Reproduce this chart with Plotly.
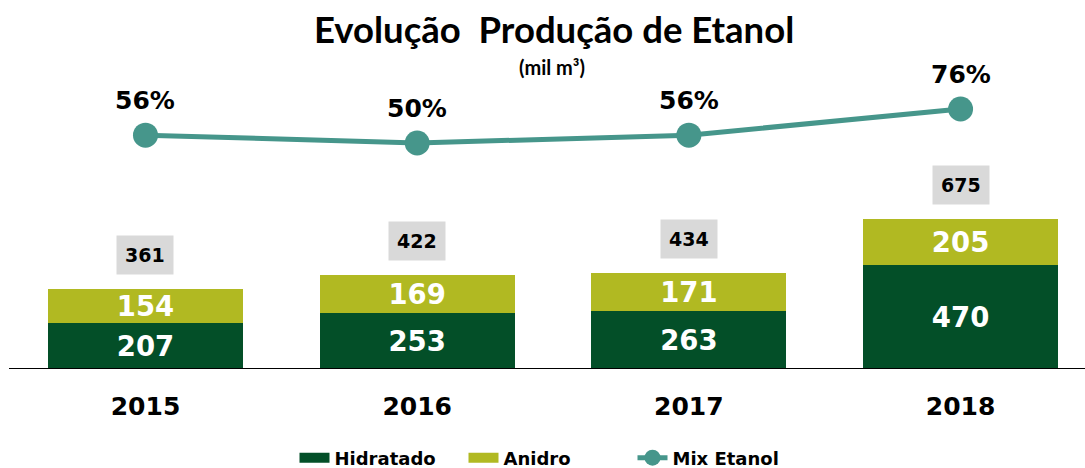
import plotly.graph_objects as go

years = ["2015", "2016", "2017", "2018"]
hidratado = [207, 253, 263, 470]
anidro = [154, 169, 171, 205]
totals = [361, 422, 434, 675]
mix = [56, 50, 56, 76]
mix_labels = ["56%", "50%", "56%", "76%"]

DARK = "#034F28"
LIME = "#B1B922"
TEAL = "#46968B"
NUM_FONT = "DejaVu Sans"
idx = list(range(len(years)))

fig = go.Figure()
fig.add_trace(go.Bar(
    x=idx, y=hidratado, name="Hidratado", marker=dict(color=DARK, line=dict(width=0)),
    text=[str(v) for v in hidratado], textposition="inside", insidetextanchor="middle",
    constraintext="none", showlegend=False,
    textfont=dict(family=NUM_FONT, size=27.5, color="white", weight="bold"),
    hoverinfo="skip"))
fig.add_trace(go.Bar(
    x=idx, y=anidro, name="Anidro", marker=dict(color=LIME, line=dict(width=0)),
    text=[str(v) for v in anidro], textposition="inside", insidetextanchor="middle",
    constraintext="none", showlegend=False,
    textfont=dict(family=NUM_FONT, size=27.5, color="white", weight="bold"),
    hoverinfo="skip"))
# legend proxies for the bar series (wide rectangle look)
fig.add_trace(go.Scatter(x=[None], y=[None], mode="lines", name="Hidratado",
                         line=dict(color=DARK, width=11)))
fig.add_trace(go.Scatter(x=[None], y=[None], mode="lines", name="Anidro",
                         line=dict(color=LIME, width=11)))
fig.add_trace(go.Scatter(
    x=idx, y=mix, name="Mix Etanol", yaxis="y2", mode="lines+markers",
    line=dict(color=TEAL, width=5), marker=dict(color=TEAL, size=25),
    hoverinfo="skip"))

# percent labels
for i, v, lab in zip(idx, mix, mix_labels):
    fig.add_annotation(x=i, y=v, xref="x", yref="y2", text=lab, showarrow=False, yshift=35,
                       font=dict(family=NUM_FONT, size=25, color="black", weight="bold"))
# total boxes
for i, t in zip(idx, totals):
    fig.add_annotation(x=i, y=t, xref="x", yref="y", text=str(t), showarrow=False, yshift=34,
                       bgcolor="#D9D9D9", borderpad=8,
                       font=dict(family=NUM_FONT, size=19, color="black", weight="bold"))

# title & subtitle
fig.add_annotation(xref="paper", yref="paper", x=554/1085, y=1 - 29/369, text="Evolução  Produção de Etanol",
                   showarrow=False, yanchor="middle",
                   font=dict(family="Lato", size=36.5, color="black", weight="bold"))
fig.add_annotation(xref="paper", yref="paper", x=552/1085, y=1 - 67/369, text="(mil m³)",
                   showarrow=False, yanchor="middle",
                   font=dict(family="Lato", size=20, color="black", weight="bold"))

# baseline
fig.add_shape(type="line", xref="paper", yref="y", x0=9/1085, x1=1, y0=0, y1=0,
              line=dict(color="black", width=2))

fig.update_layout(
    width=1085, height=468,
    margin=dict(l=0, r=0, t=0, b=99, autoexpand=False),
    paper_bgcolor="white", plot_bgcolor="white",
    barmode="stack", bargap=0.282,
    showlegend=True,
    legend=dict(orientation="h", x=548/1085, xanchor="center", y=(369 - 458) / 369, yanchor="middle",
                font=dict(family=NUM_FONT, size=18, color="black", weight="bold"),
                entrywidth=124, entrywidthmode="pixels",
                traceorder="normal"),
    xaxis=dict(range=[-0.5355, 3.458], showgrid=False, showline=False, zeroline=False,
               ticks="", ticklabelstandoff=20, tickmode="array", tickvals=idx, ticktext=years,
               tickfont=dict(family=NUM_FONT, size=25, color="black", weight="bold")),
    yaxis=dict(range=[0, 1660.5], visible=False, showgrid=False, zeroline=False),
    yaxis2=dict(range=[-122.8, 159.35], overlaying="y", visible=False, showgrid=False, zeroline=False),
)

fig.write_html("out.html", config={"displayModeBar": False},
               post_script="document.body.style.margin='0';document.body.style.overflow='hidden';")
